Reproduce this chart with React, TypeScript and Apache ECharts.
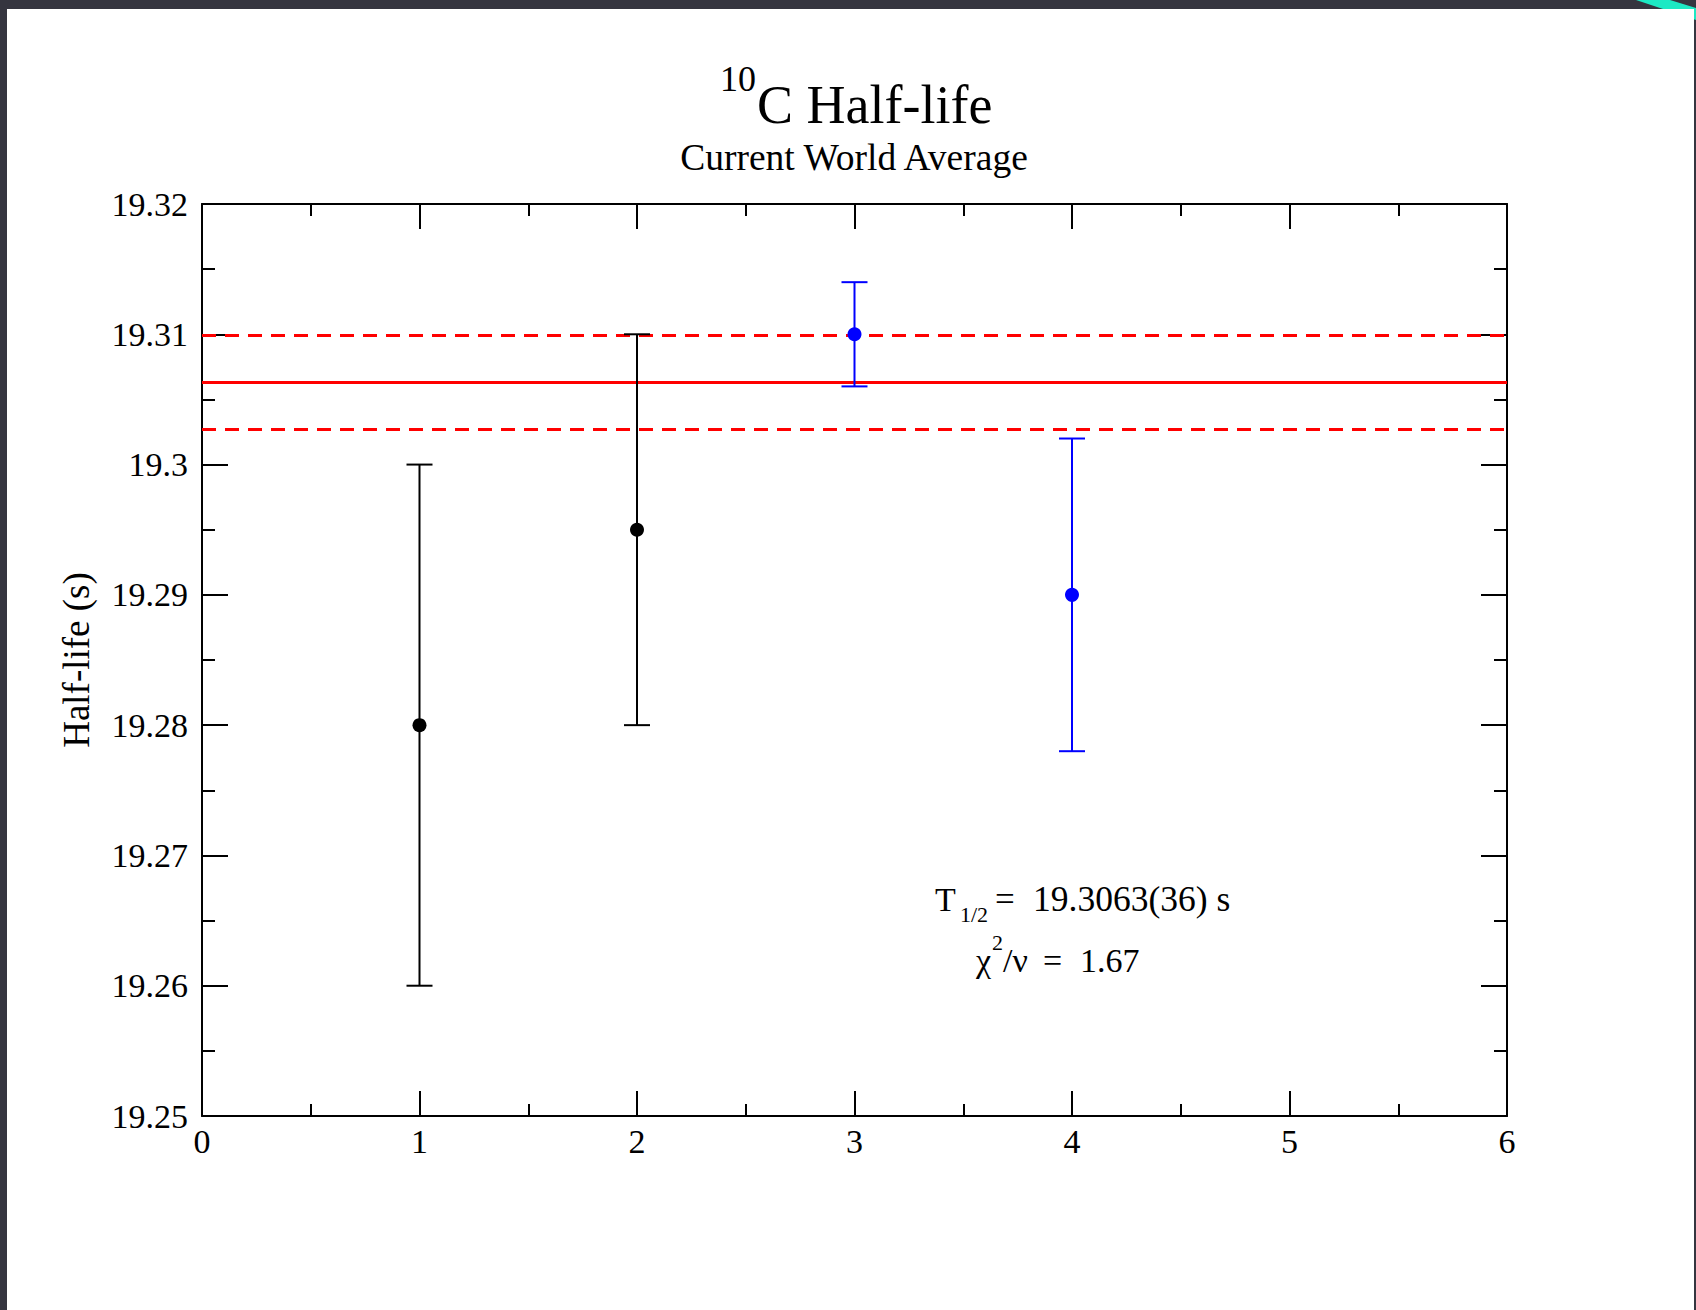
import React, { useEffect, useRef } from "react";
import * as echarts from "echarts";

// ---- data ----
const xTicks = [0, 1, 2, 3, 4, 5, 6];
const groupAX = [1, 2];
const groupAValue = [19.28, 19.295];
const groupALow = [19.26, 19.28];
const groupAHigh = [19.3, 19.31];

const groupBX = [3, 4];
const groupBValue = [19.31, 19.29];
const groupBLow = [19.306, 19.278];
const groupBHigh = [19.314, 19.302];

const worldMean = 19.3063;
const worldSigma = 0.0036;
const xRange = [0, 6];
const yRange = [19.25, 19.32];
const yStep = 0.01;

const FONT = '"Liberation Serif", "Times New Roman", serif';

function errorBarSeries(xs: number[], vals: number[], lows: number[], highs: number[], color: string) {
  return {
    type: "custom",
    z: 3,
    data: xs.map((x, i) => [x, vals[i], lows[i], highs[i]]),
    encode: { x: 0, y: 1 },
    renderItem: (params: any, api: any) => {
      const x = api.value(0);
      const lo = api.coord([x, api.value(2)]);
      const hi = api.coord([x, api.value(3)]);
      const hw = 13;
      const style = { stroke: color, lineWidth: 2 };
      return {
        type: "group",
        children: [
          { type: "line", shape: { x1: lo[0], y1: lo[1], x2: hi[0], y2: hi[1] }, style },
          { type: "line", shape: { x1: hi[0] - hw, y1: hi[1], x2: hi[0] + hw, y2: hi[1] }, style },
          { type: "line", shape: { x1: lo[0] - hw, y1: lo[1], x2: lo[0] + hw, y2: lo[1] }, style },
        ],
      };
    },
  };
}

function meanLine(y: number, dashed: boolean) {
  return {
    type: "line",
    z: 1,
    showSymbol: false,
    silent: true,
    data: xRange.map((x) => [x, y]),
    lineStyle: { color: "#ff0000", width: 3, type: dashed ? [14, 9] : "solid" },
  };
}

function makeXAxis(pos: "bottom" | "top", labels: boolean) {
  return {
    type: "value",
    position: pos,
    min: xRange[0],
    max: xRange[1],
    interval: 1,
    axisLine: { show: true, onZero: false, lineStyle: { color: "#000", width: 2 } },
    axisTick: { show: true, inside: true, length: 25, lineStyle: { color: "#000", width: 2 } },
    minorTick: { show: true, splitNumber: 2, length: 12, lineStyle: { color: "#000", width: 2 } },
    splitLine: { show: false },
    axisLabel: {
      show: labels,
      fontSize: 34,
      fontFamily: FONT,
      color: "#000",
      margin: 8,
    },
  };
}

function makeYAxis(pos: "left" | "right", labels: boolean) {
  return {
    type: "value",
    position: pos,
    min: yRange[0],
    max: yRange[1],
    interval: yStep,
    name: labels ? "Half-life (s)" : "",
    nameLocation: "middle",
    nameGap: 107,
    nameTextStyle: { fontSize: 37, fontFamily: FONT, color: "#000" },
    axisLine: { show: true, onZero: false, lineStyle: { color: "#000", width: 2 } },
    axisTick: { show: true, inside: true, length: 26, lineStyle: { color: "#000", width: 2 } },
    minorTick: { show: true, splitNumber: 2, length: 13, lineStyle: { color: "#000", width: 2 } },
    splitLine: { show: false },
    axisLabel: {
      show: labels,
      fontSize: 34,
      fontFamily: FONT,
      color: "#000",
      margin: 14,
    },
  };
}

function txt(text: string, x: number, y: number, size: number, align = "left") {
  return {
    type: "text",
    x,
    y,
    z: 10,
    style: { text, fontSize: size, fontFamily: FONT, fill: "#000", align, verticalAlign: "middle" },
  };
}

export default function App() {
  const ref = useRef<HTMLDivElement>(null);
  useEffect(() => {
    if (!ref.current) return;
    const chart = echarts.init(ref.current, null, { renderer: "svg" });
    chart.setOption({
      animation: false,
      backgroundColor: "#ffffff",
      grid: { left: 195, right: 187, top: 195, bottom: 194, containLabel: false },
      xAxis: [makeXAxis("bottom", true), makeXAxis("top", false)],
      yAxis: [makeYAxis("left", true), makeYAxis("right", false)],
      series: [
        meanLine(worldMean + worldSigma, true),
        meanLine(worldMean, false),
        meanLine(worldMean - worldSigma, true),
        errorBarSeries(groupAX, groupAValue, groupALow, groupAHigh, "#000000"),
        errorBarSeries(groupBX, groupBValue, groupBLow, groupBHigh, "#0000ff"),
        {
          type: "scatter",
          z: 4,
          symbolSize: 14,
          itemStyle: { color: "#000000", opacity: 1 },
          data: groupAX.map((x, i) => [x, groupAValue[i]]),
        },
        {
          type: "scatter",
          z: 4,
          symbolSize: 14,
          itemStyle: { color: "#0000ff", opacity: 1 },
          data: groupBX.map((x, i) => [x, groupBValue[i]]),
        },
      ],
      graphic: [
        txt("10", 713, 70, 36),
        txt("C Half-life", 750, 96, 54),
        txt("Current World Average", 847, 148, 37.5, "center"),
        txt("T", 928, 890, 34),
        txt("1/2", 953, 905, 22),
        txt("=", 988, 890, 35),
        txt("19.3063(36) s", 1026, 890, 35.5),
        txt("χ", 969, 951, 34),
        txt("2", 985, 933, 22),
        txt("/ν", 996, 951, 34),
        txt("=", 1036, 951, 34),
        txt("1.67", 1073, 951, 34),
      ],
    });
    return () => chart.dispose();
  }, []);

  return (
    <div
      style={{
        position: "absolute",
        left: 0,
        top: 0,
        width: 1696,
        height: 1310,
        background: "#35353f",
        overflow: "hidden",
      }}
    >
      <div
        style={{
          position: "absolute",
          left: 1600,
          top: 0,
          width: 96,
          height: 40,
          background: "#1de9c4",
          clipPath: "polygon(36px 0, 70px 0, 96px 8px, 96px 20px)",
        }}
      />
      <div
        ref={ref}
        style={{ position: "absolute", left: 7, top: 9, width: 1687, height: 1301, background: "#fff" }}
      />
    </div>
  );
}
